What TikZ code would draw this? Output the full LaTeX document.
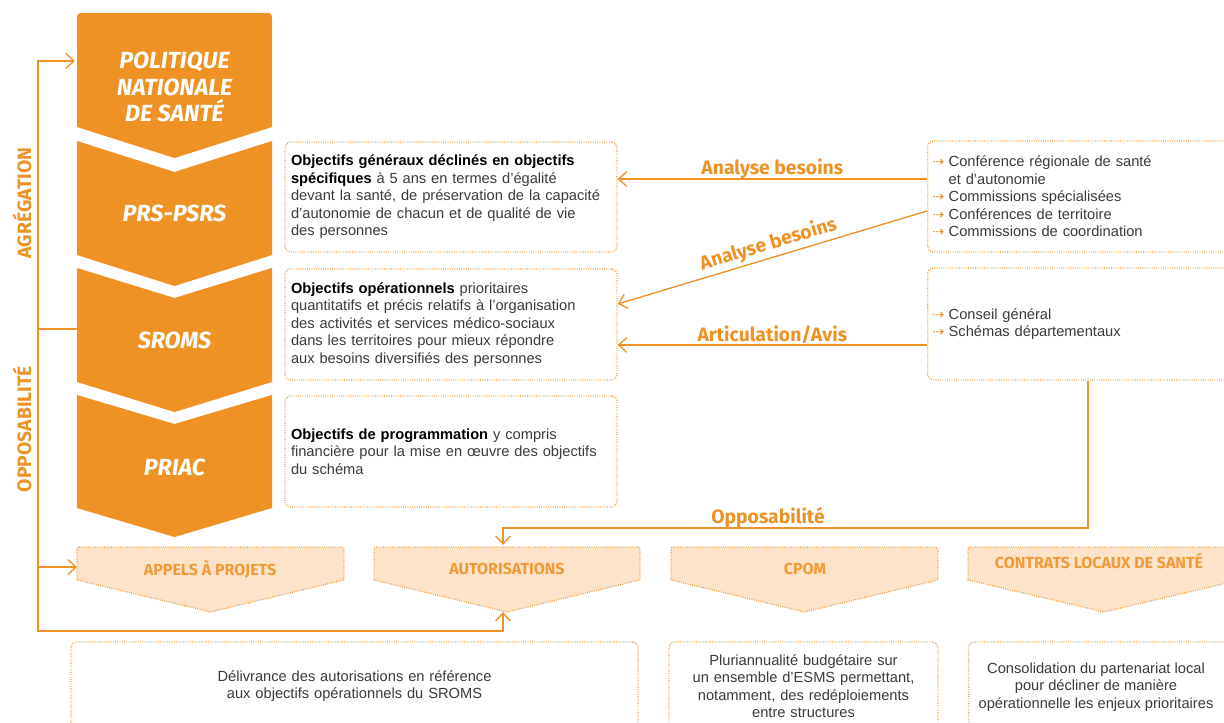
\documentclass[tikz,border=0pt]{standalone}
\usepackage{fontspec}
\setmainfont{Liberation Sans}
\newfontfamily\labfont{Fira Sans}
\newfontfamily\symfont{DejaVu Sans}
\usetikzlibrary{arrows.meta}
\definecolor{org}{HTML}{EF9226}
\definecolor{lorg}{HTML}{F29A38}
\definecolor{peach}{HTML}{FCE3CA}
\definecolor{txt}{HTML}{3A3A3A}
\newcommand\itm{\makebox[12pt][l]{\symfont\color{org}\fontsize{10.5}{10}\selectfont ⇢}}
\newcommand\pentshape[3]{%
  \path[pent] (#1,580) -- (#1,553) .. controls (#1,547) .. (#1+6,547) -- (#2-6,547) .. controls (#2,547) .. (#2,553) -- (#2,580) -- ({(#1+#2)/2},612) -- cycle;
  \coordinate (#3T) at ({(#1+#2)/2},547);
  \coordinate (#3P) at ({(#1+#2)/2},612);
  \coordinate (#3W) at (#1,567);
}
\newcommand\chevshape[5]{% x1 x2 ytop ybot depth
  \fill[org] (#1,#3) -- ({(#1+#2)/2},#3+#5) -- (#2,#3) -- (#2,#4) -- ({(#1+#2)/2},#4+#5) -- (#1,#4) -- cycle;
}
\tikzset{
  barb/.tip={Straight Barb[length=6pt,width=11pt,line width=1pt]},
  conn/.style={draw=org,line width=1pt},
  pent/.style={fill=peach,draw=lorg,line width=1pt,dash pattern=on 0.6pt off 1.1pt},
  dbox/.style={draw=lorg,line width=1pt,dash pattern=on 0.6pt off 1.1pt,rounded corners=4pt,inner sep=0pt},
  body/.style={font=\fontsize{11}{13.1}\selectfont,text=txt},
  chevtxt/.style={text=white,font=\labfont\bfseries\itshape\fontsize{17.5}{20}\selectfont,align=center},
  olab/.style={text=org,font=\labfont\bfseries\fontsize{14.5}{17}\selectfont},
  plab/.style={text=lorg,font=\labfont\bfseries\fontsize{12}{15}\selectfont},
  vlab/.style={text=org,font=\labfont\bfseries\fontsize{14.5}{17}\selectfont,rotate=90},
}
\begin{document}
\begin{tikzpicture}[x=0.75pt,y=-0.75pt]
\useasboundingbox (0,0) rectangle (1224,723);
% chevron column
\fill[org] (77,127) -- (77,21) .. controls (77,13) .. (85,13) -- (264,13) .. controls (272,13) .. (272,21) -- (272,127) -- (174.5,158) -- cycle;
\chevshape{77}{272}{141}{255}{31}
\chevshape{77}{272}{268}{382}{30}
\chevshape{77}{272}{395}{508}{29}
\node[chevtxt] (pns) at (174.5,87) {POLITIQUE\\NATIONALE\\DE SANTÉ};
\node[chevtxt] (prs) at (174.5,213) {PRS-PSRS};
\node[chevtxt] (sroms) at (174.5,340) {SROMS};
\node[chevtxt] (priac) at (174.5,467) {PRIAC};
\coordinate (pnsW) at (75,61);
\coordinate (sromsW) at (77,329);
% vertical labels
\node[vlab] (agr) at (22,203) {AGRÉGATION};
\node[vlab] (opp) at (22,429) {OPPOSABILITÉ};
% middle boxes
\node[dbox,body,minimum width=249pt,minimum height=82.5pt,text width=240pt,align=left] (bA) at (451,197)
 {\textcolor{black}{\textbf{Objectifs généraux déclinés en objectifs}}\\
  \textcolor{black}{\textbf{spécifiques}} à 5 ans en termes d’égalité\\
  devant la santé, de préservation de la capacité\\
  d’autonomie de chacun et de qualité de vie\\
  des personnes};
\node[dbox,body,minimum width=249pt,minimum height=83.25pt,text width=240pt,align=left] (bB) at (451,324.5)
 {\textcolor{black}{\textbf{Objectifs opérationnels}} prioritaires\\
  quantitatifs et précis relatifs à l’organisation\\
  des activités et services médico-sociaux\\
  dans les territoires pour mieux répondre\\
  aux besoins diversifiés des personnes};
\node[dbox,body,minimum width=249pt,minimum height=83.25pt,text width=240pt,align=left] (bC) at (451,451.5)
 {\textcolor{black}{\textbf{Objectifs de programmation}} y compris\\
  financière pour la mise en œuvre des objectifs\\
  du schéma};
% right boxes
\node[dbox,body,anchor=west,minimum width=247.5pt,minimum height=83.25pt,text width=240pt,align=left] (r1) at (927,196.5)
 {\itm Conférence régionale de santé\\
  \hspace*{12pt}et d’autonomie\\
  \itm Commissions spécialisées\\
  \itm Conférences de territoire\\
  \itm Commissions de coordination};
\node[dbox,body,anchor=west,minimum width=247.5pt,minimum height=84pt,text width=240pt,align=left] (r2) at (927,324)
 {\itm Conseil général\\
  \itm Schémas départementaux};
% connectors right -> middle
\draw[conn,-barb] (r1.west |- 0,179) -- node[olab,above=-4pt] (lab1) {Analyse besoins} (bA.east |- 0,179);
\draw[conn,-barb] (r1.west |- 0,211) -- node[olab,sloped,above=-1pt] (lab2) {Analyse besoins} (bB.east |- 0,304);
\draw[conn,-barb] (r2.west |- 0,345) -- node[olab,above=-3pt] (lab3) {Articulation/Avis} (bB.east |- 0,345);
% bottom shapes
\pentshape{77}{344}{app}
\pentshape{374}{640}{aut}
\pentshape{671}{938}{cpom}
\pentshape{968}{1240}{cls}
\node[plab] (appL) at (210,569) {APPELS À PROJETS};
\node[plab] (autL) at (507,569) {AUTORISATIONS};
\node[plab] (cpomL) at (805,569) {CPOM};
\node[plab] (clsL) at (1099,561) {CONTRATS LOCAUX DE SANTÉ};
% opposabilite
\coordinate (autA) at (503,545);
\coordinate (autB) at (503,612);
\draw[conn,-barb] (r2.south -| 1088,0) |- (503,528) -- (autA);
\node[olab] (lab4) at (768,518) {Opposabilité};
% left loop
\draw[conn,barb-barb] (pnsW) -| (38,631) -| (autB);
\draw[conn,-barb] (38,567) -- (appW);
\draw[conn] (38,329) -- (sromsW);
% bottom text boxes
\node[dbox,body,minimum width=425.25pt,minimum height=66pt,text width=300pt,align=center] (d1) at (354.5,686)
 {Délivrance des autorisations en référence\\aux objectifs opérationnels du SROMS};
\node[dbox,body,minimum width=201.75pt,minimum height=66pt,text width=195pt,align=center] (d2) at (803.5,686)
 {Pluriannualité budgétaire sur\\un ensemble d’ESMS permettant,\\notamment, des redéploiements\\entre structures};
\node[dbox,anchor=west,minimum width=210pt,minimum height=66pt] (d3) at (968,686) {};
\node[body,align=center] (d3t) at (1096,687)
 {Consolidation du partenariat local\\pour décliner de manière\\opérationnelle les enjeux prioritaires};
\end{tikzpicture}
\end{document}
